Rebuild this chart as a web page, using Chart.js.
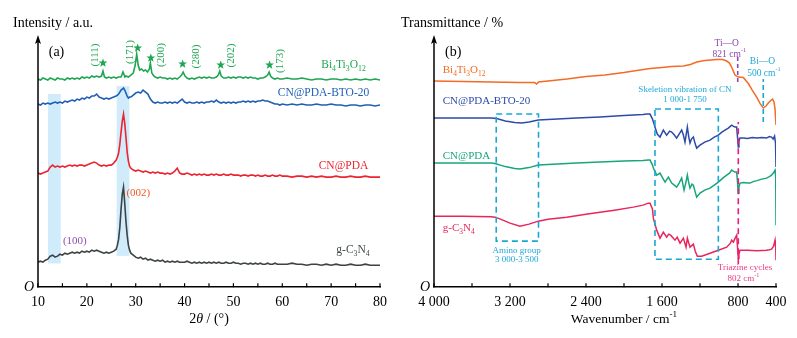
<!DOCTYPE html>
<html lang="en">
<head>
<meta charset="UTF-8">
<title>XRD and FTIR</title>
<script src="https://cdn.jsdelivr.net/npm/chart.js"></script>
<style>
  body { margin: 0; background: #fff; }
  #wrap { position: relative; width: 797px; height: 338px; }
  #xrd { position: absolute; left: 0; top: 0; }
  #ftir { position: absolute; left: 400px; top: 0; }
</style>
</head>
<body>
<div id="wrap">
  <canvas id="xrd" width="400" height="338"></canvas>
  <canvas id="ftir" width="397" height="338"></canvas>
</div>
<script>
// ---- (a) XRD: 2theta grid shared by CN@PDA-BTO-20, CN@PDA and g-C3N4
const xGrid = [
  10,10.5,11,11.5,12,12.5,13,13.5,14,14.5,15,15.5,16,16.5,17,17.5,18,18.5,19,19.5,
  20,20.5,21,21.5,22,22.5,23,23.5,24,24.5,25,25.5,26,
  26.25,26.5,26.75,27,27.25,27.5,27.75,28,28.25,28.5,28.75,29,29.25,29.5,
  30,30.5,31,31.5,32,32.5,33,33.5,34,34.5,35,35.5,36,36.5,37,37.5,38,38.5,39,39.5,
  40,40.5,41,41.5,42,42.5,43,43.5,44,44.5,45,45.5,46,46.5,47,47.5,48,48.5,49,49.5,
  50,50.5,51,51.5,52,52.5,53,53.5,54,54.5,55,55.5,56,56.5,57,57.5,58,58.5,59,59.5,60,
  61,62,63,64,65,66,67,68,69,70,71,72,73,74,75,76,77,78,79,80
];
const yBT20 = [
  183,182,184,183,184,183,184,185,184,185,184,186,185,186,187,186,188,187,189,188,
  190,189,191,191,193,190,189,188,189,188,189,190,191,
  192,193,195,197,198,199,197,194,191,189,190,190,191,192,
  194,195,194,197,195,193,188,185,184,185,184,184,185,184,185,184,185,184,186,188,
  185,184,185,184,184,185,184,185,184,185,185,186,185,187,185,184,185,184,185,184,
  185,184,185,185,186,185,186,185,186,185,186,186,187,186,186,185,184,183,183,182,183,
  182,183,182,183,182,182,183,182,182,183,182,182,181,182,182,181,182,182,181,182
];
const yPDA = [
  114,113,114,115,116,120,122,120,121,120,121,120,121,122,121,122,121,122,122,121,
  122,123,124,125,124,122,121,122,121,122,122,124,127,
  130,134,143,155,166,173,164,150,135,126,121,119,118,117,
  116,117,116,115,116,115,114,115,114,115,114,114,113,114,113,114,116,119,114,113,
  113,114,113,112,113,112,113,112,113,112,112,113,112,113,112,112,113,112,112,113,
  112,112,112,111,112,112,111,112,112,111,112,111,111,112,111,111,112,111,111,112,111,
  111,110,111,111,110,111,110,111,110,110,111,110,110,111,110,110,111,110,110,110
];
const yGCN = [
  25,26,25,27,28,31,32,30,31,33,32,34,33,34,35,34,35,34,36,35,
  36,35,37,36,37,36,35,34,35,34,35,36,38,
  42,48,60,78,93,100,84,66,52,42,37,34,33,32,
  30,29,30,28,29,27,28,27,26,27,26,27,25,26,25,26,25,26,25,25,
  25,26,25,24,25,24,25,24,25,24,25,24,25,24,25,24,24,25,24,24,
  25,24,24,23,24,24,23,24,23,24,23,24,23,23,24,23,23,24,23,23,23,
  23,24,23,23,22,23,23,22,23,22,23,22,22,23,22,22,23,22,22,22
];
// Bi4Ti3O12 has its own 2theta points around the reflections
const xBTO = [
  10,10.5,11,11.5,12,12.5,13,13.5,14,14.5,15,15.5,16,16.5,17,17.5,18,18.5,19,19.5,20,20.5,21,21.5,22,22.5,23,
  23.3,23.6,
  24,24.5,25,25.5,26,26.5,27,
  27.4,27.8,
  28,28.5,29,29.5,
  29.9,30.2,30.5,30.8,31.2,31.6,32,32.4,32.8,33,33.3,33.7,
  34,34.5,35,35.5,36,36.5,37,37.5,38,38.5,39,
  39.4,39.7,40.1,
  40.5,41,41.5,42,42.5,43,43.5,44,44.5,45,45.5,46,46.5,
  46.9,47.2,47.5,
  48,48.5,49,49.5,50,50.5,51,51.5,52,52.5,53,53.5,54,54.5,55,55.5,56,56.5,57,
  57.3,57.6,
  58,58.5,59,59.5,
  60,61,62,63,64,65,66,67,68,69,70,71,72,73,74,75,76,77,78,79,80
];
const yBTO = [
  208,207,209,208,207,209,208,207,209,208,208,207,209,208,209,208,209,208,210,209,210,209,211,210,211,210,211,
  216,210,
  209,210,209,210,209,210,210,
  215,210,
  211,210,212,214,
  222,233,222,217,218,216,217,215,218,224,214,211,
  210,209,210,209,209,208,209,208,209,208,210,
  212,215,211,
  209,208,209,208,209,210,209,210,209,210,209,209,210,
  212,216,211,
  209,209,210,209,210,209,210,210,209,210,209,210,209,209,208,209,209,210,212,
  215,211,
  209,208,209,208,
  208,209,208,208,209,208,207,208,208,207,208,208,207,208,207,208,207,208,207,208,207
];
const xrdTickLabels = [10, 20, 30, 40, 50, 60, 70, 80];

// ---- (b) FTIR: wavenumber (cm-1) and transmittance for each sample
const wBTO = [4000,3700,3400,3100,2990,2940,2919,2900,2800,2600,2400,2200,2000,1900,1726,1600,1500,1375,1300,1235,
  1150,1025,960,919,890,867,832,797,744,691,650,603,570,534,505,481,450,435,421,410,400];
const tBTO = [206,205.5,205,204.5,204.5,204.5,203,205,206,208,210.5,212,214.5,216,218.5,219.5,220.5,221,222.5,225,
  226.5,227.5,227.5,226,224,220,212,210,209.5,203.5,197,190,184,179,181,184,187,188,185,178,162];
const wBT20 = [4000,3600,3400,3340,3250,3150,3077,3000,2902,2700,2500,2253,2000,1800,1761,1726,1700,1674,1650,1621,
  1586,1551,1520,1498,1470,1446,1420,1393,1375,1358,1333,1318,1305,1290,1270,1250,1235,1200,1150,1095,
  1050,1007,970,937,902,867,850,832,814,805,797,790,779,740,700,650,600,550,500,470,447,430,415,405,400];
const tBT20 = [169,169,169,168.5,166,164.5,164,165,167,168,169,170,171.5,172.5,173,173,168,160,153,150,
  157,152,156,155,152,149,153,157,152,145,160,150,144,148,150,143,139,142,145,147,
  150,152,155,157,159,162,161,160,160,150,140,146,149,149,148.5,149.5,149,149.5,149,150.5,150,148,151,144,120];
const wPDA = [4000,3600,3400,3358,3250,3150,3095,3000,2902,2700,2500,2253,2000,1800,1744,1726,1700,1691,1656,1621,
  1586,1568,1533,1498,1470,1446,1420,1393,1368,1350,1333,1318,1305,1285,1270,1250,1235,1200,1150,1095,
  1050,1007,960,919,890,867,850,832,814,805,797,790,779,740,700,674,640,600,550,500,470,447,428,410,403,400];
const tPDA = [124,124,124,123.5,120.5,118.5,118,119.5,122,123,124,125,126,126.5,127,127,122,119,112,114,
  108,105,110,104,102,100,104,109,97,104,112,104,99,103,102,95,90,94,97,99,
  102,105,109,112,114,117,116,115,115,105,94,100,104,104.5,104,104,105.5,106.5,108,109,110.5,112,114,117,110,62];
const wGCN = [4000,3700,3400,3358,3300,3200,3095,3000,2902,2800,2604,2400,2253,2100,1902,1800,1744,1726,1700,1691,
  1656,1621,1586,1551,1530,1509,1463,1440,1410,1375,1347,1333,1318,1305,1270,1250,1228,1182,1095,1007,
  919,880,867,849,830,814,805,797,790,779,700,600,500,470,447,425,410,403,400];
const tGCN = [71,71,70.5,70,68,64,61,63,66,68,70,73,75,77,80,82,84,84,78,69,
  57,49,55,50,53,52,47,50,44,49,40,49,44,40,43,36,31,31,34,37,
  40,44,47,45,49,52,40,29,33,37,37,36.5,37,37.5,38,41,47,40,27];
const ftirTickValues = [4000, 3600, 3200, 2800, 2400, 2000, 1600, 1200, 800, 400];
const ftirTickLabels = { 4000: '4 000', 3200: '3 200', 2400: '2 400', 1600: '1 600', 800: '800', 400: '400' };

const SERIF = '"Liberation Serif", "Times New Roman", serif';
Chart.defaults.font.family = SERIF;
Chart.defaults.color = '#000';

const pts = (xs, ys) => xs.map((v, i) => ({ x: v, y: ys[i] }));

// draws text made of pieces: [text] normal, [text,'sub'], [text,'sup'], [text,'it']
function richText(ctx, segs, x, y, size, color, align) {
  const fontOf = k => (k === 'it' ? 'italic ' : '') + (k === 'sub' || k === 'sup' ? size * 0.68 : size) + 'px ' + SERIF;
  let w = 0;
  segs.forEach(s => { ctx.font = fontOf(s[1]); w += ctx.measureText(s[0]).width; });
  let cx = align === 'center' ? x - w / 2 : align === 'right' ? x - w : x;
  ctx.fillStyle = color;
  ctx.textAlign = 'left';
  ctx.textBaseline = 'middle';
  segs.forEach(s => {
    ctx.font = fontOf(s[1]);
    const dy = s[1] === 'sub' ? size * 0.32 : s[1] === 'sup' ? -size * 0.36 : 0;
    ctx.fillText(s[0], cx, y + dy);
    cx += ctx.measureText(s[0]).width;
  });
}

function star(ctx, cx, cy, r, color) {
  ctx.beginPath();
  for (let i = 0; i < 10; i++) {
    const rr = i % 2 ? r * 0.42 : r;
    const a = -Math.PI / 2 + i * Math.PI / 5;
    ctx.lineTo(cx + rr * Math.cos(a), cy + rr * Math.sin(a));
  }
  ctx.closePath();
  ctx.fillStyle = color;
  ctx.fill();
}

// y axis with arrow, inward x ticks, the italic O at the origin
function drawFrame(chart) {
  const { ctx, chartArea: a, scales: { x } } = chart;
  ctx.save();
  ctx.strokeStyle = '#000';
  ctx.lineWidth = 1.5;
  ctx.beginPath();
  ctx.moveTo(a.left, a.bottom);
  ctx.lineTo(a.left, a.top + 6);
  ctx.stroke();
  ctx.beginPath();
  ctx.moveTo(a.left, a.top);
  ctx.lineTo(a.left - 3, a.top + 9);
  ctx.lineTo(a.left, a.top + 7);
  ctx.lineTo(a.left + 3, a.top + 9);
  ctx.closePath();
  ctx.fillStyle = '#000';
  ctx.fill();
  ctx.lineWidth = 1.2;
  x.ticks.forEach(t => {
    const px = x.getPixelForValue(t.value);
    ctx.beginPath();
    ctx.moveTo(px, a.bottom);
    ctx.lineTo(px, a.bottom - 4);
    ctx.stroke();
  });
  richText(ctx, [['O', 'it']], a.left - 9, a.bottom, 14, '#000', 'center');
  ctx.restore();
}

const lblBTO = [['Bi'], ['4', 'sub'], ['Ti'], ['3', 'sub'], ['O'], ['12', 'sub']];
const lblGCN = [['g-C'], ['3', 'sub'], ['N'], ['4', 'sub']];

const xrdDecor = {
  id: 'xrdDecor',
  beforeDatasetsDraw(chart) {
    const { ctx, scales: { x, y } } = chart;
    ctx.save();
    ctx.fillStyle = 'rgba(150, 210, 245, 0.45)';
    [[12.05, 14.65, 23.7, 193], [26.1, 28.7, 31.3, 201]].forEach(b => {
      const x0 = x.getPixelForValue(b[0]), x1 = x.getPixelForValue(b[1]);
      const y0 = y.getPixelForValue(b[3]), y1 = y.getPixelForValue(b[2]);
      ctx.fillRect(x0, y0, x1 - x0, y1 - y0);
    });
    ctx.restore();
  },
  afterDraw(chart) {
    const { ctx, chartArea: a, scales: { x, y } } = chart;
    drawFrame(chart);
    ctx.save();
    const P = (vx, vy) => [x.getPixelForValue(vx), y.getPixelForValue(vy)];
    richText(ctx, [['Intensity / a.u.']], 13, 23, 14, '#000', 'left');
    richText(ctx, [['2'], ['θ', 'it'], [' / (°)']], (a.left + a.right) / 2, 319, 14, '#000', 'center');
    richText(ctx, [['(a)']], ...P(12.2, 235), 14, '#000', 'left');

    richText(ctx, lblBTO, ...P(77.1, 222), 11.5, '#1fa653', 'right');
    richText(ctx, [['CN@PDA-BTO-20']], ...P(77.8, 194), 11.5, '#2160b8', 'right');
    richText(ctx, [['CN@PDA']], ...P(77.6, 121), 11.5, '#ee2430', 'right');
    richText(ctx, lblGCN, ...P(77.9, 37), 11.5, '#454a4c', 'right');

    richText(ctx, [['(002)']], ...P(28.1, 94), 11, '#f15a24', 'left');
    richText(ctx, [['(100)']], ...P(15.1, 46), 11, '#8f4fb3', 'left');

    const green = '#1fa653';
    [[23.3, 224], [30.4, 239], [33.1, 229], [39.6, 223], [47.4, 222], [57.4, 222]].forEach(s => {
      const [px, py] = P(s[0], s[1]);
      star(ctx, px, py, 4.6, green);
    });
    [['(111)', 21.6, 232], ['(171)', 28.8, 235], ['(200)', 35.3, 232],
     ['(280)', 42.3, 230.5], ['(202)', 49.6, 231.5], ['(173)', 59.5, 226]].forEach(m => {
      const [px, py] = P(m[1], m[2]);
      ctx.save();
      ctx.translate(px, py);
      ctx.rotate(-Math.PI / 2);
      richText(ctx, [[m[0]]], 0, 0, 11, green, 'center');
      ctx.restore();
    });
    ctx.restore();
  }
};

const ftirDecor = {
  id: 'ftirDecor',
  afterDatasetsDraw(chart) {
    const { ctx, scales: { x, y } } = chart;
    ctx.save();
    ctx.lineWidth = 1.6;
    ctx.strokeStyle = '#1aa8d2';
    ctx.setLineDash([6, 4]);
    [[3345, 2900, 46, 173], [1674, 1007, 28, 178]].forEach(b => {
      const x0 = x.getPixelForValue(b[0]), x1 = x.getPixelForValue(b[1]);
      const y0 = y.getPixelForValue(b[3]), y1 = y.getPixelForValue(b[2]);
      ctx.strokeRect(x0, y0, x1 - x0, y1 - y0);
    });
    [[803, 205, 232, '#8b48b0', [4, 3]], [797, 23, 165, '#ec1c7a', [6, 4]], [534, 165, 208, '#1aa8d2', [5, 3]]].forEach(l => {
      ctx.strokeStyle = l[3];
      ctx.setLineDash(l[4]);
      ctx.beginPath();
      ctx.moveTo(x.getPixelForValue(l[0]), y.getPixelForValue(l[1]));
      ctx.lineTo(x.getPixelForValue(l[0]), y.getPixelForValue(l[2]));
      ctx.stroke();
    });
    ctx.restore();
  },
  afterDraw(chart) {
    const { ctx, chartArea: a, scales: { x, y } } = chart;
    drawFrame(chart);
    ctx.save();
    const P = (vx, vy) => [x.getPixelForValue(vx), y.getPixelForValue(vy)];
    richText(ctx, [['Transmittance / %']], 1, 23, 14, '#000', 'left');
    richText(ctx, [['Wavenumber / cm'], ['-1', 'sup']], 224, 319, 13.5, '#000', 'center');
    richText(ctx, [['(b)']], ...P(3884, 235), 14, '#000', 'left');

    richText(ctx, lblBTO, ...P(3908, 217), 11, '#f36b24', 'left');
    richText(ctx, [['CN@PDA-BTO-20']], ...P(3908, 186), 11, '#2d4ba8', 'left');
    richText(ctx, [['CN@PDA']], ...P(3908, 131), 11, '#17a67c', 'left');
    richText(ctx, lblGCN, ...P(3908, 59), 11, '#e8265d', 'left');

    const cyan = '#1fa8d6', purple = '#8b48b0', pink = '#ee3a86';
    richText(ctx, [['Ti—O']], ...P(919, 244), 9.5, purple, 'center');
    richText(ctx, [['821 cm'], ['-1', 'sup']], ...P(891, 233), 9.5, purple, 'center');
    richText(ctx, [['Bi—O']], ...P(542, 226), 9.5, cyan, 'center');
    richText(ctx, [['500 cm'], ['-1', 'sup']], ...P(526, 214), 9.5, cyan, 'center');
    richText(ctx, [['Skeletion vibration of CN']], ...P(1358, 197), 9, cyan, 'center');
    richText(ctx, [['1 000-1 750']], ...P(1358, 187), 9, cyan, 'center');
    richText(ctx, [['Amino group']], ...P(3130, 37), 9, cyan, 'center');
    richText(ctx, [['3 000-3 500']], ...P(3130, 28), 9, cyan, 'center');
    richText(ctx, [['Triazine cycles']], ...P(726, 20), 9, pink, 'center');
    richText(ctx, [['802 cm'], ['-1', 'sup']], ...P(744, 9), 9, pink, 'center');
    ctx.restore();
  }
};

const hiddenY = { display: false, min: 0, max: 252 };
const xAxisBase = {
  type: 'linear',
  grid: { display: false, drawTicks: false },
  border: { display: true, color: '#000', width: 1.5 },
  ticks: { padding: 7, autoSkip: false, maxRotation: 0, font: { size: 14 } }
};
const line = (data, color, width) => ({
  data, borderColor: color, borderWidth: width, pointRadius: 0, tension: 0, fill: false
});

new Chart(document.getElementById('xrd'), {
  type: 'line',
  data: {
    datasets: [
      line(pts(xBTO, yBTO), '#1fa653', 1.6),
      line(pts(xGrid, yBT20), '#1f5fb5', 1.6),
      line(pts(xGrid, yPDA), '#ee2430', 1.6),
      line(pts(xGrid, yGCN), '#3d4345', 1.6)
    ]
  },
  options: {
    responsive: false,
    animation: false,
    layout: { padding: { left: 38, right: 20, top: 35, bottom: 20 } },
    plugins: { legend: { display: false }, tooltip: { enabled: false } },
    scales: {
      x: {
        ...xAxisBase, min: 10, max: 80,
        ticks: { ...xAxisBase.ticks, stepSize: 5, callback: v => xrdTickLabels.includes(v) ? String(v) : '' }
      },
      y: hiddenY
    }
  },
  plugins: [xrdDecor]
});

new Chart(document.getElementById('ftir'), {
  type: 'line',
  data: {
    datasets: [
      line(pts(wBTO, tBTO), '#f36b24', 1.5),
      line(pts(wBT20, tBT20), '#2d4ba8', 1.5),
      line(pts(wPDA, tPDA), '#17a67c', 1.5),
      line(pts(wGCN, tGCN), '#e8265d', 1.5)
    ]
  },
  options: {
    responsive: false,
    animation: false,
    layout: { padding: { left: 34, right: 21, top: 35, bottom: 20 } },
    plugins: { legend: { display: false }, tooltip: { enabled: false } },
    scales: {
      x: {
        ...xAxisBase, min: 400, max: 4000, reverse: true,
        afterBuildTicks: s => { s.ticks = ftirTickValues.map(v => ({ value: v })); },
        ticks: { ...xAxisBase.ticks, callback: v => ftirTickLabels[v] || '' }
      },
      y: hiddenY
    }
  },
  plugins: [ftirDecor]
});
</script>
</body>
</html>
